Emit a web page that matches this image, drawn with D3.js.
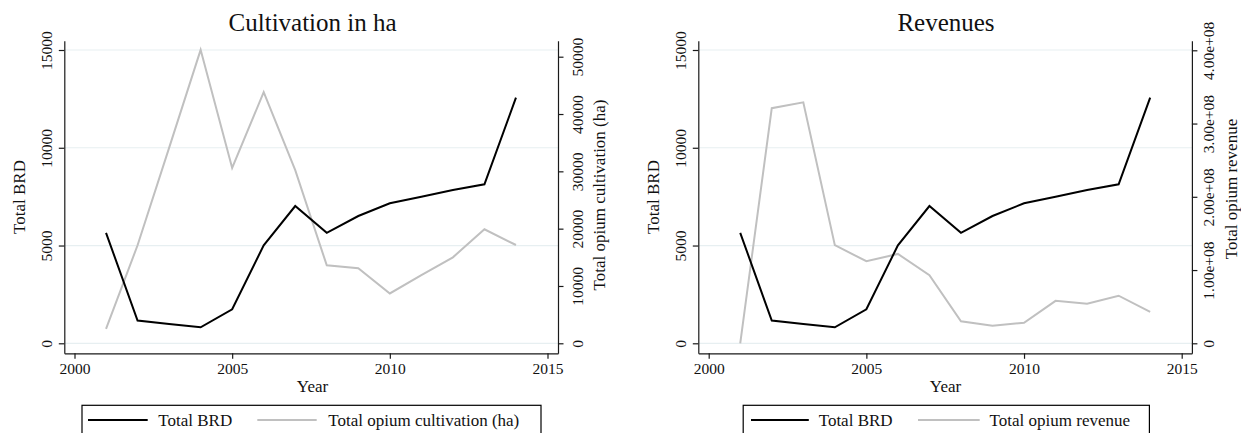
<!DOCTYPE html>
<html>
<head>
<meta charset="utf-8">
<script src="https://cdn.jsdelivr.net/npm/d3@7"></script>
<style>
  html, body { margin: 0; padding: 0; background: #fff; }
  svg { display: block; font-family: "Liberation Serif", "DejaVu Serif", serif; }
</style>
</head>
<body>
<svg id="chart" width="1241" height="433"></svg>
<script>
// ---------- data ----------
const years = [2001, 2002, 2003, 2004, 2005, 2006, 2007, 2008, 2009, 2010, 2011, 2012, 2013, 2014];
const totalBRD = [5650, 1160, 990, 820, 1740, 5010, 7020, 5650, 6510, 7160, 7500, 7840, 8130, 12560];
const cultivationHa = [2500, 17100, 34100, 51200, 30600, 43800, 30200, 13600, 13100, 8700, 11900, 15000, 19900, 17150];
const opiumRevenue = [0, 3.21e8, 3.29e8, 1.34e8, 1.12e8, 1.22e8, 0.93e8, 0.30e8, 0.24e8, 0.28e8, 0.58e8, 0.54e8, 0.65e8, 0.43e8];

const xTicks = [2000, 2005, 2010, 2015];
const brdTicks = [0, 5000, 10000, 15000];
const brdTickLabels = ["0", "5000", "10000", "15000"];
const cultTicks = [0, 10000, 20000, 30000, 40000, 50000];
const cultTickLabels = ["0", "10000", "20000", "30000", "40000", "50000"];
const revTicks = [0, 1e8, 2e8, 3e8, 4e8];
const revTickLabels = ["0", "1.00e+08", "2.00e+08", "3.00e+08", "4.00e+08"];

const panels = [
  { title: "Cultivation in ha", right: cultivationHa, rTicks: cultTicks, rLabels: cultTickLabels,
    rTitle: "Total opium cultivation (ha)", legend2: "Total opium cultivation (ha)" },
  { title: "Revenues", right: opiumRevenue, rTicks: revTicks, rLabels: revTickLabels,
    rTitle: "Total opium revenue", legend2: "Total opium revenue" }
];

// ---------- layout ----------
const layouts = [
  { axL: 64.3, axR: 558, x2000: 74.5, x2015: 547.5, rMax: 50000, rMaxY: 56.7,
    titleX: 312.6, yearX: 312.5, lTickX: 52, lTitleX: 25, rTickX: 583, rTitleX: 605, rTitleY: 195,
    legX: 82, legW: 459, leg: [88, 147.7, 158.3, 257.3, 316.7, 328.3] },
  { axL: 698.3, axR: 1191.9, x2000: 708.7, x2015: 1181.7, rMax: 4e8, rMaxY: 50.3,
    titleX: 946, yearX: 945.5, lTickX: 686, lTitleX: 659, rTickX: 1214, rTitleX: 1237, rTitleY: 189,
    legX: 743.2, legW: 406.2, leg: [751, 808.8, 818.7, 918, 979.7, 989.6] }
];
const yTop = 40.7, yBot = 353.3, y0 = 343.3, y15 = 50;
const gridColor = "#e7eff1", axisColor = "#1a1a1a", grayLine = "#c0c0c0";

const svg = d3.select("#chart");

panels.forEach((p, i) => {
  const L = layouts[i];
  const pxPerYear = (L.x2015 - L.x2000) / 15;
  const x = d3.scaleLinear()
    .domain([2000 - (L.x2000 - L.axL) / pxPerYear, 2015 + (L.axR - L.x2015) / pxPerYear])
    .range([L.axL, L.axR]);
  const pxPerUnit = (y0 - y15) / 15000;
  const yL = d3.scaleLinear()
    .domain([-(yBot - y0) / pxPerUnit, 15000 + (y15 - yTop) / pxPerUnit])
    .range([yBot, yTop]);
  const rPer = (y0 - L.rMaxY) / L.rMax;
  const yR = d3.scaleLinear()
    .domain([-(yBot - y0) / rPer, L.rMax + (L.rMaxY - yTop) / rPer])
    .range([yBot, yTop]);

  const g = svg.append("g");

  // gridlines
  g.selectAll(".grid").data(brdTicks).enter().append("line")
    .attr("x1", L.axL).attr("x2", L.axR)
    .attr("y1", d => yL(d)).attr("y2", d => yL(d))
    .attr("stroke", gridColor).attr("stroke-width", 1.2);

  // lines
  const lineL = d3.line().x((d, j) => x(years[j])).y(d => yL(d));
  const lineR = d3.line().x((d, j) => x(years[j])).y(d => yR(d));
  g.append("path").datum(p.right).attr("d", lineR)
    .attr("fill", "none").attr("stroke", grayLine).attr("stroke-width", 2)
    .attr("stroke-linejoin", "miter");
  g.append("path").datum(totalBRD).attr("d", lineL)
    .attr("fill", "none").attr("stroke", "#000").attr("stroke-width", 2)
    .attr("stroke-linejoin", "miter");

  // axes
  const axB = g.append("g").attr("transform", `translate(0,${yBot})`)
    .call(d3.axisBottom(x).tickValues(xTicks).tickSize(5.5).tickSizeOuter(0).tickFormat(d3.format("d")));
  const axLg = g.append("g").attr("transform", `translate(${L.axL},0)`)
    .call(d3.axisLeft(yL).tickValues(brdTicks).tickSize(5.5).tickSizeOuter(0)
      .tickFormat((d, k) => brdTickLabels[k]));
  const axRg = g.append("g").attr("transform", `translate(${L.axR},0)`)
    .call(d3.axisRight(yR).tickValues(p.rTicks).tickSize(5.5).tickSizeOuter(0)
      .tickFormat((d, k) => p.rLabels[k]));

  [axB, axLg, axRg].forEach(a => {
    a.attr("font-family", "Liberation Serif").attr("font-size", 15.5);
    a.select(".domain").attr("stroke", axisColor).attr("stroke-width", 1.2);
    a.selectAll(".tick line").attr("stroke", axisColor).attr("stroke-width", 1.2);
    a.selectAll("text").attr("font-family", "Liberation Serif").attr("font-size", 15.5).attr("fill", "#111");
  });
  axB.selectAll("text").attr("dy", null).attr("y", 20.7);

  axLg.selectAll(".tick text")
    .attr("x", null).attr("dy", null)
    .attr("text-anchor", "middle")
    .attr("transform", `translate(${L.lTickX - L.axL},0) rotate(-90)`)
    .attr("y", 0);
  axRg.selectAll(".tick text")
    .attr("x", null).attr("dy", null)
    .attr("text-anchor", "middle")
    .attr("transform", `translate(${L.rTickX - L.axR},0) rotate(-90)`)
    .attr("y", 0);

  // titles
  g.append("text").attr("x", L.titleX).attr("y", 30.7).attr("text-anchor", "middle")
    .attr("font-size", 25).attr("fill", "#111").text(p.title);
  g.append("text").attr("x", L.yearX).attr("y", 391.7).attr("text-anchor", "middle")
    .attr("font-size", 17).attr("fill", "#111").text("Year");
  g.append("text").attr("transform", `translate(${L.lTitleX},197) rotate(-90)`)
    .attr("text-anchor", "middle").attr("font-size", 17).attr("fill", "#111").text("Total BRD");
  g.append("text").attr("transform", `translate(${L.rTitleX},${L.rTitleY}) rotate(-90)`)
    .attr("text-anchor", "middle").attr("font-size", 17).attr("fill", "#111").text(p.rTitle);

  // legend
  g.append("rect").attr("x", L.legX).attr("y", 405.3).attr("width", L.legW).attr("height", 40)
    .attr("fill", "#fff").attr("stroke", "#000").attr("stroke-width", 1.2);
  const lg = L.leg;
  g.append("line").attr("x1", lg[0]).attr("x2", lg[1]).attr("y1", 420).attr("y2", 420)
    .attr("stroke", "#000").attr("stroke-width", 2);
  g.append("text").attr("x", lg[2]).attr("y", 426).attr("font-size", 17).attr("fill", "#111").text("Total BRD");
  g.append("line").attr("x1", lg[3]).attr("x2", lg[4]).attr("y1", 420).attr("y2", 420)
    .attr("stroke", grayLine).attr("stroke-width", 2);
  g.append("text").attr("x", lg[5]).attr("y", 426).attr("font-size", 17).attr("fill", "#111").text(p.legend2);
});
</script>
</body>
</html>
